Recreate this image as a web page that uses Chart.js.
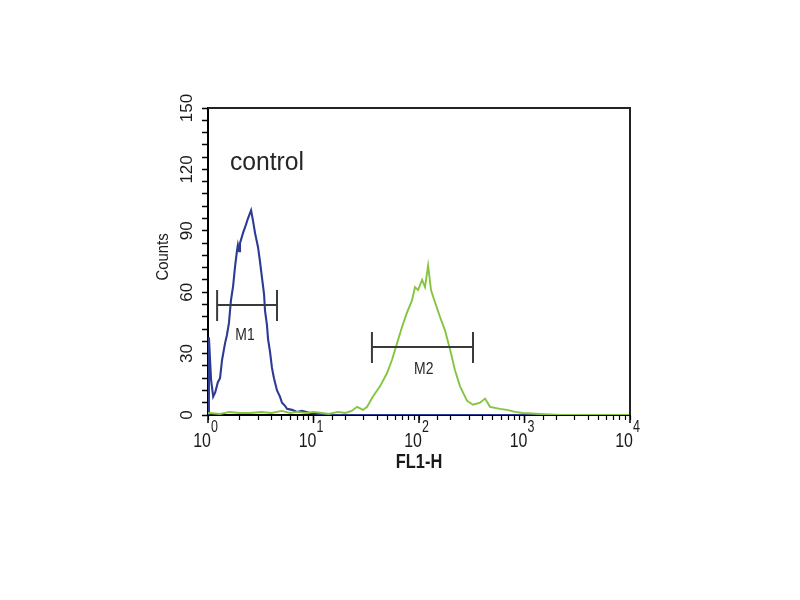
<!DOCTYPE html>
<html>
<head>
<meta charset="utf-8">
<script src="https://cdn.jsdelivr.net/npm/chart.js@4.4.1/dist/chart.umd.min.js"></script>
<style>
html,body{margin:0;padding:0;background:#fff;}
#wrap{width:800px;height:600px;}
</style>
</head>
<body>
<div id="wrap"><canvas id="c" width="800" height="600"></canvas></div>
<script>
// ---- data ----
const blueFL1 = [1.00,1.02,1.07,1.12,1.17,1.24,1.30,1.36,1.45,1.51,1.58,1.65,1.73,1.80,1.88,1.92,1.97,2.01,2.15,2.29,2.39,2.56,2.67,2.79,2.98,3.11,3.25,3.40,3.47,3.62,3.71,3.87,4.04,4.22,4.51,4.81,5.03,5.37,5.61,6.26,6.98,7.78,9.26,11.5,14.3,20,50,100,300,1000,3000,10000];
const blueCounts = [0,38,17,9,11,16,18,27,35,39,45,56,63,72,80,83,80,84,89,93,96,100,95,89,82,75,67,59,51,44,37,31,23,18,12,9,6,4.5,3,2.5,1.5,2,1,0.5,0,0,0,0,0,0,0,0];

const greenFL1 = [1.0,1.3,1.6,2.0,2.5,3.2,4.0,5.0,6.0,7.0,8.5,10,12,14,17,20,23,25.9,29.5,32.2,36.6,42.7,49.8,55.5,61.9,69.0,76.9,85.8,91.6,97.9,107,114,122,130,142,158,176,197,219,245,285,325,379,423,471,586,683,813,968,1403,2170,5000,10000];
const greenCounts = [1,0.5,1.5,1,1,1.5,1,2,1,1.5,1,1.5,1,0.5,1.5,1,2,4,2.5,4,9,14,20.5,27,35,43,50,56,62.5,61,66,62.5,73,61,55,48,41.5,32,22,14,7,5,6,8,4,3,2.5,1.5,1,0.5,0,0,0];

const yTickLabels = [0,30,60,90,120,150];
const xTickExponents = [0,1,2,3,4];

const markerNames = ["M1","M2"];
const markerStart = [1.22,35.8];
const markerEnd = [4.51,325];
const markerLevel = [53.7,33.2];
const markerLabelX = [2.24,111];
const markerLabelY = [40,23.5];

const annotationText = "control";
const xTitle = "FL1-H";
const yTitle = "Counts";

function toPts(xs, ys){ return xs.map((x,i)=>({x:x,y:ys[i]})); }

function condensedText(ctx, text, x, y, font, sx, align, rot){
  ctx.save();
  ctx.translate(x,y);
  if(rot) ctx.rotate(rot);
  ctx.scale(sx,1);
  ctx.font = font;
  ctx.textAlign = align || 'center';
  ctx.textBaseline = 'alphabetic';
  ctx.fillText(text,0,0);
  ctx.restore();
}

const decor = {
  id:'decor',
  afterDraw(chart){
    const ctx = chart.ctx;
    const a = chart.chartArea;
    const xs = chart.scales.x, ys = chart.scales.y;
    ctx.save();
    // box top + right
    ctx.strokeStyle = '#222';
    ctx.lineWidth = 2;
    ctx.beginPath();
    ctx.moveTo(a.left, a.top);
    ctx.lineTo(a.right, a.top);
    ctx.lineTo(a.right, a.bottom);
    ctx.stroke();
    // longer decade ticks
    ctx.strokeStyle = '#000';
    ctx.lineWidth = 1.5;
    xTickExponents.forEach(e=>{
      const px = xs.getPixelForValue(Math.pow(10,e));
      ctx.beginPath(); ctx.moveTo(px,a.bottom); ctx.lineTo(px,a.bottom+8); ctx.stroke();
    });
    ctx.fillStyle = '#1a1a1a';
    // y tick labels, rotated
    yTickLabels.forEach(v=>{
      const py = ys.getPixelForValue(v);
      ctx.save();
      ctx.translate(192, py);
      ctx.rotate(-Math.PI/2);
      ctx.font = '17px "Liberation Sans", Arial, sans-serif';
      ctx.textAlign = 'center';
      ctx.textBaseline = 'alphabetic';
      ctx.fillText(String(v),0,0);
      ctx.restore();
    });
    // x tick labels 10^n
    xTickExponents.forEach(e=>{
      const px = xs.getPixelForValue(Math.pow(10,e));
      condensedText(ctx,'10',px+3,447,'21px "Liberation Sans", Arial, sans-serif',0.76,'right');
      condensedText(ctx,String(e),px+3,432,'16px "Liberation Sans", Arial, sans-serif',0.78,'left');
    });
    // axis titles
    condensedText(ctx,xTitle,419,468,'bold 20px "Liberation Sans", Arial, sans-serif',0.82,'center');
    condensedText(ctx,yTitle,168,257,'16px "Liberation Sans", Arial, sans-serif',0.93,'center',-Math.PI/2);
    // annotation
    ctx.fillStyle = '#262626';
    condensedText(ctx,annotationText,267,170,'26px "Liberation Sans", Arial, sans-serif',0.95,'center');
    // markers
    ctx.strokeStyle = '#3a3a3a';
    ctx.lineWidth = 2;
    markerNames.forEach((n,i)=>{
      const x1 = xs.getPixelForValue(markerStart[i]);
      const x2 = xs.getPixelForValue(markerEnd[i]);
      const y = ys.getPixelForValue(markerLevel[i]);
      ctx.beginPath();
      ctx.moveTo(x1,y); ctx.lineTo(x2,y);
      ctx.moveTo(x1,y-15); ctx.lineTo(x1,y+16);
      ctx.moveTo(x2,y-15); ctx.lineTo(x2,y+16);
      ctx.stroke();
      ctx.fillStyle = '#2a2a2a';
      const lx = xs.getPixelForValue(markerLabelX[i]);
      const ly = ys.getPixelForValue(markerLabelY[i]);
      condensedText(ctx,n,lx,ly+7,'17px "Liberation Sans", Arial, sans-serif',0.82,'center');
    });
    ctx.restore();
  }
};

new Chart(document.getElementById('c'),{
  type:'line',
  data:{
    datasets:[
      {label:'control', data:toPts(greenFL1,greenCounts), borderColor:'#86c440', borderWidth:1.9, pointRadius:0, tension:0, fill:false},
      {label:'sample', data:toPts(blueFL1,blueCounts), borderColor:'#2c3b94', borderWidth:2.1, pointRadius:0, tension:0, fill:false}
    ]
  },
  options:{
    responsive:false,
    animation:false,
    devicePixelRatio:1,
    layout:{padding:{left:150,right:170,top:108,bottom:125}},
    plugins:{legend:{display:false},tooltip:{enabled:false}},
    scales:{
      x:{
        type:'logarithmic', min:1, max:10000,
        afterFit(s){ s.height = 60; },
        ticks:{display:false, autoSkip:false},
        grid:{drawOnChartArea:false, drawTicks:true, tickLength:5, color:'#000', tickWidth:1.2},
        border:{display:true, color:'#000', width:2}
      },
      y:{
        type:'linear', min:0, max:150,
        afterFit(s){ s.width = 58; },
        ticks:{display:false, stepSize:6, maxTicksLimit:100, autoSkip:false},
        grid:{drawOnChartArea:false, drawTicks:true, tickLength:6, color:'#000', tickWidth:1.5},
        border:{display:true, color:'#000', width:2}
      }
    }
  },
  plugins:[decor]
});
</script>
</body>
</html>
